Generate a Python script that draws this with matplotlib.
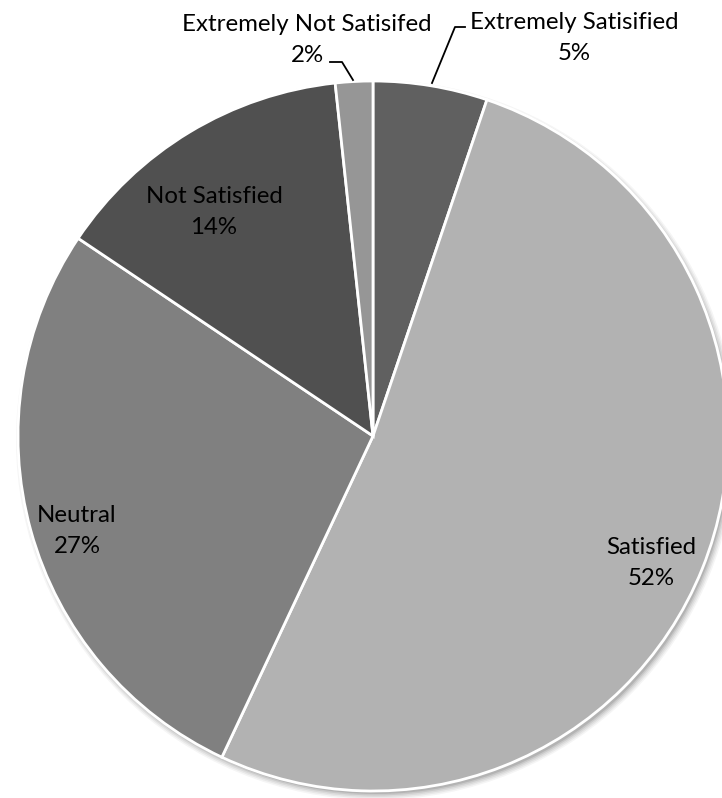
import matplotlib
matplotlib.use("Agg")
import matplotlib.pyplot as plt
from matplotlib.patches import Circle

categories = ["Extremely Satisified", "Satisfied", "Neutral", "Not Satisfied", "Extremely Not Satisifed"]
values = [5.2, 51.8, 27.4, 13.9, 1.7]
colors = ["#606060", "#b2b2b2", "#808080", "#505050", "#969696"]

W, H = 722, 798
fig = plt.figure(figsize=(W / 100, H / 100), dpi=100)
ax = fig.add_axes([0, 0, 1, 1])
ax.set_xlim(0, W)
ax.set_ylim(0, H)
ax.set_aspect("equal")
ax.axis("off")

cx, cy, r = 373, H - 436, 355

# soft shadow
for i, a in enumerate([0.04, 0.05, 0.06, 0.08, 0.10]):
    ax.add_patch(Circle((cx + 3, cy - 4), r + 5 - i * 1.5, color="black", alpha=a, lw=0, zorder=0))

wedges, _ = ax.pie(values, colors=colors, startangle=90, counterclock=False,
                   center=(cx, cy), radius=r,
                   wedgeprops=dict(edgecolor="white", linewidth=2))
ax.set_xlim(0, W)
ax.set_ylim(0, H)

fs = 17.3

def lab(i):
    return f"{categories[i]}\n{round(values[i]):.0f}%"

def py(y):
    return H - y

kw = dict(ha="center", va="center", fontsize=fs, color="#000000", linespacing=1.62,
          family=['Lato', 'DejaVu Sans'])
ax.text(574, py(38), lab(0), **kw)
ax.text(651, py(563), lab(1), **kw)
ax.text(77, py(531), lab(2), **kw)
ax.text(214, py(212), lab(3), **kw)
ax.text(307, py(40), lab(4), **kw)

# leader lines
ax.plot([330, 342, 353], [py(62), py(62), py(80)], color="#000000", lw=1.3)
ax.plot([465, 455, 432], [py(27), py(27), py(83)], color="#000000", lw=1.3)

fig.savefig("out.png", dpi=100, facecolor="white")
